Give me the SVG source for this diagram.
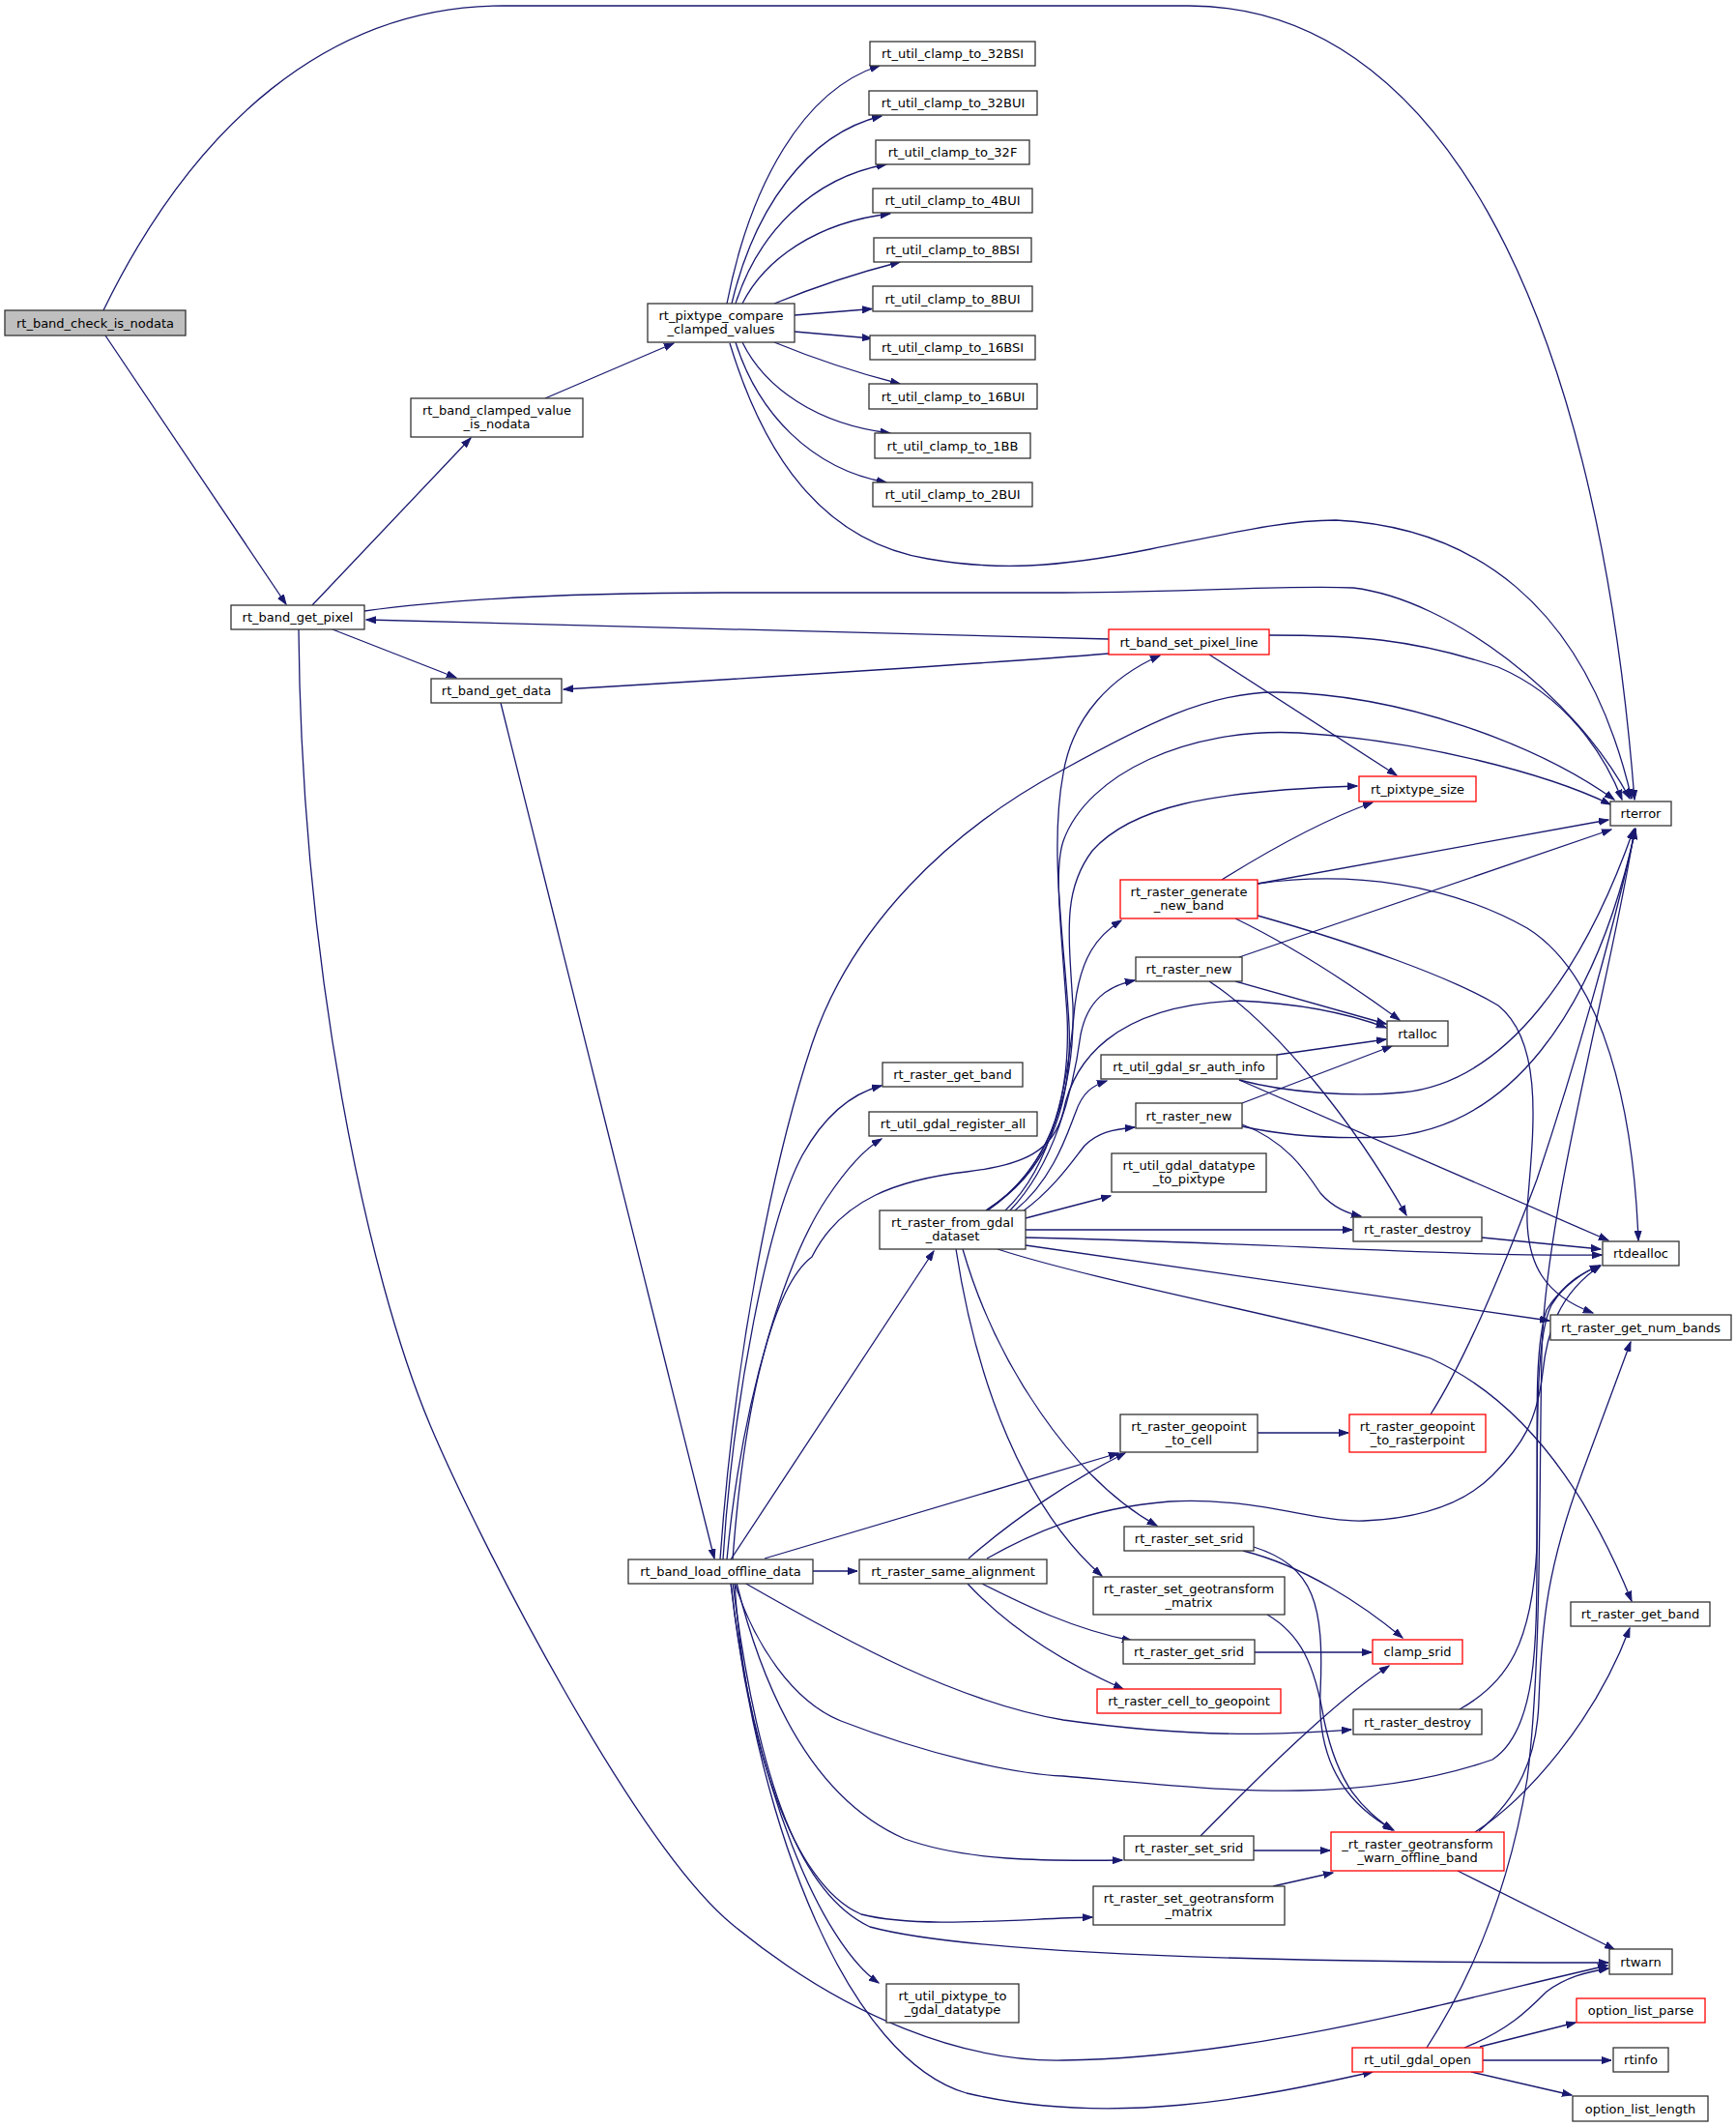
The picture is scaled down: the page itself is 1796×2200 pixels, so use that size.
<svg xmlns="http://www.w3.org/2000/svg" width="1796" height="2200" viewBox="0 0 1796 2200">
<style>
.n rect{fill:#fff;stroke:#333;stroke-width:1.3}
.r rect{stroke:#ff0000}
.g rect{fill:#bfbfbf}
text{font-family:"DejaVu Sans","Liberation Sans",sans-serif;font-size:13px;text-anchor:middle;fill:#000}
#edges path{fill:none;stroke:#191970;stroke-width:1.3;marker-end:url(#ah)}
</style>
<defs>
<marker id="ah" markerWidth="11" markerHeight="8" refX="10" refY="4" orient="auto" markerUnits="userSpaceOnUse">
<path d="M0,0.5 L10,4 L0,7.5 z" fill="#191970" stroke="#191970" stroke-width="1"/>
</marker>
</defs>
<rect width="1796" height="2200" fill="#fff"/>
<g id="edges">
<path d="M107,321 C200,130 340,6 520,6 L1230,6 C1480,6 1650,300 1691,827"/>
<path d="M109,347 L296,625"/>
<path d="M323,626 L487,453"/>
<path d="M564,412 L697,355"/>
<path d="M752,314 C776,191 831,93 910,68"/>
<path d="M757,314 C780,217 834,139 912,120"/>
<path d="M761,314 C784,242 839,184 917,170"/>
<path d="M768,314 C791,268 845,230 921,221"/>
<path d="M801,314 C840,298 880,284 931,271"/>
<path d="M822,326 L902,319.5"/>
<path d="M822,343 L902,350"/>
<path d="M801,354 C840,370 880,384 931,397"/>
<path d="M768,354 C791,401 845,439 921,448"/>
<path d="M761,354 C784,427 839,485 917,499"/>
<path d="M755,355 C790,470 850,560 960,578 C1030,590 1090,588 1190,568 C1280,550 1330,538 1382,538 C1520,545 1640,620 1688,826"/>
<path d="M377,632 C480,618 600,613 750,613 L1100,613 C1250,612 1330,605 1400,608 C1500,620 1630,720 1686,826"/>
<path d="M1147,661 L379,641"/>
<path d="M1147,676 C1000,688 800,700 583,713"/>
<path d="M1313,657 C1400,657 1460,660 1550,690 C1620,720 1660,780 1678,827"/>
<path d="M1251,677 L1445,802"/>
<path d="M344,651 L472,701"/>
<path d="M518,727 L739,1612"/>
<path d="M309,651 C312,1000 380,1320 445,1474 C497,1597 657,1907 757,1990 C877,2089 1000,2133 1100,2131 C1300,2128 1500,2070 1663,2033"/>
<path d="M756,1613 L966,1294"/>
<path d="M841,1625 L887,1625"/>
<path d="M748,1613 C758,1450 795,1260 830,1195 C855,1150 885,1130 912,1123"/>
<path d="M752,1613 C768,1440 815,1300 855,1240 C875,1210 895,1188 912,1178"/>
<path d="M758,1613 C770,1450 800,1330 840,1300 C870,1240 930,1220 1000,1212 C1060,1205 1090,1190 1100,1150 C1110,1100 1150,1040 1280,1035 C1350,1038 1400,1050 1434,1063"/>
<path d="M745,1613 C760,1400 800,1200 840,1080 C880,960 980,860 1100,796 C1180,752 1250,715 1322,716 C1450,718 1590,770 1670,827"/>
<path d="M791,1612 L1157,1503"/>
<path d="M770,1637 C880,1700 990,1760 1100,1779 C1250,1800 1340,1793 1398,1789"/>
<path d="M760,1637 C780,1700 820,1760 870,1780 C960,1815 1050,1835 1100,1837 C1250,1850 1400,1870 1544,1820 C1590,1790 1590,1700 1590,1600 C1590,1450 1590,1380 1605,1350 C1620,1325 1640,1315 1655,1309"/>
<path d="M762,1637 C790,1750 840,1860 936,1902 C1000,1925 1080,1925 1161,1924"/>
<path d="M760,1637 C770,1800 820,1950 891,1980 C950,1995 1050,1985 1130,1983"/>
<path d="M758,1637 C785,1850 830,1960 900,1993 C1000,2020 1300,2030 1664,2030"/>
<path d="M756,1637 C780,1850 850,2010 909,2051"/>
<path d="M756,1637 C785,1900 880,2130 1000,2165 C1150,2200 1300,2170 1420,2143"/>
<path d="M1002,1612 C1050,1570 1110,1530 1164,1503"/>
<path d="M1021,1612 C1060,1590 1120,1560 1210,1553 C1300,1548 1360,1575 1411,1573 C1480,1570 1520,1550 1544,1526 C1575,1495 1590,1470 1596,1420 C1600,1380 1612,1338 1656,1309"/>
<path d="M1016,1638 C1060,1660 1110,1685 1171,1697"/>
<path d="M1001,1638 C1040,1680 1090,1715 1162,1747"/>
<path d="M1020,1252 C1080,1215 1110,1150 1106,1060 C1102,980 1085,880 1100,800 C1110,740 1150,700 1200,678"/>
<path d="M1020,1252 C1085,1210 1108,1140 1104,1050 C1098,960 1090,900 1100,870 C1125,800 1230,752 1344,758 C1470,766 1600,800 1666,832"/>
<path d="M1022,1252 C1090,1205 1112,1120 1110,1040 C1105,960 1100,920 1130,880 C1170,835 1250,818 1404,813"/>
<path d="M1040,1252 C1090,1205 1105,1120 1112,1040 C1118,990 1135,968 1160,952"/>
<path d="M1045,1252 C1090,1205 1110,1130 1118,1070 C1125,1035 1145,1020 1174,1014"/>
<path d="M1050,1252 C1090,1220 1105,1170 1113,1150 C1120,1130 1130,1123 1145,1118"/>
<path d="M1058,1253 C1090,1230 1110,1200 1122,1185 C1135,1172 1150,1168 1174,1166"/>
<path d="M1061,1260 L1149,1237"/>
<path d="M1061,1272 L1399,1272"/>
<path d="M1061,1280 C1300,1285 1500,1300 1657,1298"/>
<path d="M1061,1288 L1603,1366"/>
<path d="M1032,1292 C1150,1330 1380,1370 1480,1405 C1580,1450 1645,1550 1688,1656"/>
<path d="M996,1292 C1030,1410 1110,1530 1197,1578"/>
<path d="M989,1292 C1010,1430 1060,1560 1140,1630"/>
<path d="M1264,910 C1320,875 1370,848 1420,830"/>
<path d="M1301,914 L1664,848"/>
<path d="M1278,950 C1340,980 1400,1020 1448,1055"/>
<path d="M1301,947 C1400,975 1500,1010 1550,1040 C1600,1080 1585,1180 1580,1250 C1578,1310 1600,1340 1648,1358"/>
<path d="M1301,914 C1400,900 1500,915 1580,960 C1660,1010 1690,1150 1695,1283"/>
<path d="M1282,990 L1667,858"/>
<path d="M1278,1015 L1434,1059"/>
<path d="M1251,1015 C1320,1060 1400,1160 1455,1257"/>
<path d="M1321,1091 L1434,1075"/>
<path d="M1282,1117 C1330,1130 1400,1135 1450,1130 C1560,1120 1640,1000 1690,858"/>
<path d="M1282,1117 L1664,1283"/>
<path d="M1285,1141 L1440,1082"/>
<path d="M1285,1165 C1330,1175 1380,1178 1430,1176 C1560,1170 1650,1050 1692,858"/>
<path d="M1285,1163 C1330,1180 1350,1210 1366,1234 C1380,1250 1395,1255 1408,1258"/>
<path d="M1533,1280 L1656,1292"/>
<path d="M1301,1482 L1395,1482"/>
<path d="M1480,1463 C1520,1400 1560,1300 1590,1220 C1630,1100 1670,960 1692,857"/>
<path d="M1286,1604 C1350,1620 1410,1660 1451,1694"/>
<path d="M1297,1600 C1360,1620 1370,1660 1366,1750 C1362,1830 1400,1870 1442,1893"/>
<path d="M1311,1670 C1345,1690 1360,1720 1370,1780 C1385,1850 1410,1870 1440,1893"/>
<path d="M1298,1709 L1419,1709"/>
<path d="M1242,1899 C1300,1840 1380,1760 1437,1723"/>
<path d="M1297,1914 L1376,1914"/>
<path d="M1317,1951 L1379,1937"/>
<path d="M1508,1935 L1670,2016"/>
<path d="M1526,1895 C1580,1860 1650,1780 1686,1684"/>
<path d="M1530,1894 C1570,1860 1590,1820 1592,1760 C1595,1680 1600,1620 1640,1515 C1660,1460 1675,1420 1687,1388"/>
<path d="M1476,2118 C1520,2050 1560,1960 1580,1840 C1595,1720 1592,1550 1595,1400 C1598,1250 1670,1000 1691,857"/>
<path d="M1515,2118 C1560,2100 1580,2080 1600,2060 C1620,2045 1640,2040 1664,2036"/>
<path d="M1531,2117 L1630,2092"/>
<path d="M1534,2131 L1667,2131"/>
<path d="M1522,2143 L1626,2167"/>
<path d="M1510,1768 C1560,1740 1585,1700 1590,1600 C1592,1500 1585,1400 1600,1355 C1615,1330 1640,1315 1655,1309"/>
</g>
<g id="n1" class="n g"><rect x="5" y="321" width="187" height="26"/><text x="98.5" y="338.5">rt_band_check_is_nodata</text></g>
<g id="n2" class="n"><rect x="425" y="412" width="178" height="40"/><text x="514" y="429">rt_band_clamped_value</text><text x="514" y="443">_is_nodata</text></g>
<g id="n3" class="n"><rect x="670" y="314" width="152" height="40"/><text x="746" y="331">rt_pixtype_compare</text><text x="746" y="345">_clamped_values</text></g>
<g id="n4" class="n"><rect x="239" y="626" width="138" height="25"/><text x="308" y="643">rt_band_get_pixel</text></g>
<g id="c1" class="n"><rect x="900" y="43" width="171" height="25"/><text x="985.5" y="60">rt_util_clamp_to_32BSI</text></g>
<g id="c2" class="n"><rect x="899" y="94" width="174" height="25"/><text x="986" y="111">rt_util_clamp_to_32BUI</text></g>
<g id="c3" class="n"><rect x="906" y="145" width="159" height="25"/><text x="985.5" y="162">rt_util_clamp_to_32F</text></g>
<g id="c4" class="n"><rect x="903" y="195" width="165" height="25"/><text x="985.5" y="212">rt_util_clamp_to_4BUI</text></g>
<g id="c5" class="n"><rect x="904" y="246" width="163" height="25"/><text x="985.5" y="263">rt_util_clamp_to_8BSI</text></g>
<g id="c6" class="n"><rect x="903" y="296" width="165" height="26"/><text x="985.5" y="313.5">rt_util_clamp_to_8BUI</text></g>
<g id="c7" class="n"><rect x="900" y="347" width="171" height="25"/><text x="985.5" y="364">rt_util_clamp_to_16BSI</text></g>
<g id="c8" class="n"><rect x="899" y="397" width="174" height="26"/><text x="986" y="414.5">rt_util_clamp_to_16BUI</text></g>
<g id="c9" class="n"><rect x="905" y="448" width="161" height="26"/><text x="985.5" y="465.5">rt_util_clamp_to_1BB</text></g>
<g id="c10" class="n"><rect x="903" y="499" width="165" height="25"/><text x="985.5" y="516">rt_util_clamp_to_2BUI</text></g>
<g id="n5" class="n"><rect x="446" y="702" width="135" height="25"/><text x="513.5" y="719">rt_band_get_data</text></g>
<g id="n6" class="n r"><rect x="1147" y="651" width="166" height="26"/><text x="1230" y="668.5">rt_band_set_pixel_line</text></g>
<g id="n7" class="n r"><rect x="1406" y="803" width="121" height="26"/><text x="1466.5" y="820.5">rt_pixtype_size</text></g>
<g id="n8" class="n"><rect x="1666" y="829" width="63" height="25"/><text x="1697.5" y="846">rterror</text></g>
<g id="n9" class="n r"><rect x="1159" y="910" width="142" height="40"/><text x="1230" y="927">rt_raster_generate</text><text x="1230" y="941">_new_band</text></g>
<g id="n10" class="n"><rect x="1175" y="990" width="110" height="25"/><text x="1230" y="1007">rt_raster_new</text></g>
<g id="n11" class="n"><rect x="1435" y="1056" width="63" height="26"/><text x="1466.5" y="1073.5">rtalloc</text></g>
<g id="n12" class="n"><rect x="913" y="1099" width="145" height="25"/><text x="985.5" y="1116">rt_raster_get_band</text></g>
<g id="n13" class="n"><rect x="1139" y="1091" width="182" height="25"/><text x="1230" y="1108">rt_util_gdal_sr_auth_info</text></g>
<g id="n14" class="n"><rect x="899" y="1150" width="174" height="25"/><text x="986" y="1167">rt_util_gdal_register_all</text></g>
<g id="n15" class="n"><rect x="1175" y="1141" width="110" height="26"/><text x="1230" y="1158.5">rt_raster_new</text></g>
<g id="n16" class="n"><rect x="1150" y="1193" width="160" height="40"/><text x="1230" y="1210">rt_util_gdal_datatype</text><text x="1230" y="1224">_to_pixtype</text></g>
<g id="n17" class="n"><rect x="910" y="1252" width="151" height="40"/><text x="985.5" y="1269">rt_raster_from_gdal</text><text x="985.5" y="1283">_dataset</text></g>
<g id="n18" class="n"><rect x="1400" y="1259" width="133" height="25"/><text x="1466.5" y="1276">rt_raster_destroy</text></g>
<g id="n19" class="n"><rect x="1658" y="1284" width="79" height="25"/><text x="1697.5" y="1301">rtdealloc</text></g>
<g id="n20" class="n"><rect x="1604" y="1360" width="187" height="26"/><text x="1697.5" y="1377.5">rt_raster_get_num_bands</text></g>
<g id="n21" class="n"><rect x="1159" y="1463" width="142" height="39"/><text x="1230" y="1479.5">rt_raster_geopoint</text><text x="1230" y="1493.5">_to_cell</text></g>
<g id="n22" class="n r"><rect x="1396" y="1463" width="141" height="39"/><text x="1466.5" y="1479.5">rt_raster_geopoint</text><text x="1466.5" y="1493.5">_to_rasterpoint</text></g>
<g id="n23" class="n"><rect x="1163" y="1579" width="134" height="25"/><text x="1230" y="1596">rt_raster_set_srid</text></g>
<g id="n24" class="n"><rect x="650" y="1613" width="191" height="25"/><text x="745.5" y="1630">rt_band_load_offline_data</text></g>
<g id="n25" class="n"><rect x="889" y="1613" width="194" height="25"/><text x="986" y="1630">rt_raster_same_alignment</text></g>
<g id="n26" class="n"><rect x="1131" y="1631" width="198" height="39"/><text x="1230" y="1647.5">rt_raster_set_geotransform</text><text x="1230" y="1661.5">_matrix</text></g>
<g id="n27" class="n"><rect x="1625" y="1657" width="144" height="25"/><text x="1697" y="1674">rt_raster_get_band</text></g>
<g id="n28" class="n"><rect x="1162" y="1696" width="136" height="25"/><text x="1230" y="1713">rt_raster_get_srid</text></g>
<g id="n29" class="n r"><rect x="1420" y="1696" width="93" height="25"/><text x="1466.5" y="1713">clamp_srid</text></g>
<g id="n30" class="n r"><rect x="1135" y="1747" width="190" height="25"/><text x="1230" y="1764">rt_raster_cell_to_geopoint</text></g>
<g id="n31" class="n"><rect x="1400" y="1768" width="133" height="26"/><text x="1466.5" y="1785.5">rt_raster_destroy</text></g>
<g id="n32" class="n"><rect x="1163" y="1899" width="134" height="25"/><text x="1230" y="1916">rt_raster_set_srid</text></g>
<g id="n33" class="n r"><rect x="1377" y="1895" width="179" height="40"/><text x="1466.5" y="1912">_rt_raster_geotransform</text><text x="1466.5" y="1926">_warn_offline_band</text></g>
<g id="n34" class="n"><rect x="1131" y="1951" width="198" height="40"/><text x="1230" y="1968">rt_raster_set_geotransform</text><text x="1230" y="1982">_matrix</text></g>
<g id="n35" class="n"><rect x="1665" y="2016" width="65" height="26"/><text x="1697.5" y="2033.5">rtwarn</text></g>
<g id="n36" class="n r"><rect x="1631" y="2067" width="133" height="25"/><text x="1697.5" y="2084">option_list_parse</text></g>
<g id="n37" class="n"><rect x="917" y="2052" width="137" height="40"/><text x="985.5" y="2069">rt_util_pixtype_to</text><text x="985.5" y="2083">_gdal_datatype</text></g>
<g id="n38" class="n"><rect x="1669" y="2118" width="57" height="25"/><text x="1697.5" y="2135">rtinfo</text></g>
<g id="n39" class="n r"><rect x="1399" y="2118" width="135" height="25"/><text x="1466.5" y="2135">rt_util_gdal_open</text></g>
<g id="n40" class="n"><rect x="1627" y="2168" width="140" height="26"/><text x="1697" y="2185.5">option_list_length</text></g>
</svg>
